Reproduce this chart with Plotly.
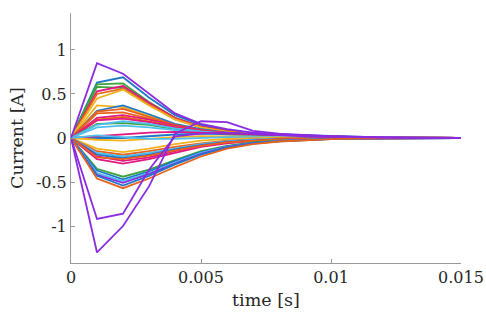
import plotly.graph_objects as go

time_s = [0, 0.001, 0.002, 0.003, 0.004, 0.005, 0.006, 0.007, 0.008,
          0.009, 0.010, 0.011, 0.012, 0.013, 0.014, 0.015]

x_tick_vals = [0, 0.005, 0.01, 0.015]
x_tick_text = ["0", "0.005", "0.01", "0.015"]
y_tick_vals = [-1, -0.5, 0, 0.5, 1]
y_tick_text = ["-1", "-0.5", "0", "0.5", "1"]

BLUE = "#1f77c8"
ORANGE = "#e8621c"
YELLOW = "#f0b21e"
PURPLE = "#8a2be2"
GREEN = "#3ca43a"
CYAN = "#4dbeee"
MAGENTA = "#e0187f"

# positive branch currents [A]
p01 = [0, .63, .69, .46, .26, .15, .09, .055, .04, .03, .02, .012, .006, .004, .002, .001]
p02 = [0, .61, .62, .41, .23, .13, .08, .05, .035, .025, .017, .01, .005, .003, .002, .001]
p03 = [0, .58, .57, .38, .21, .12, .07, .045, .03, .022, .015, .009, .005, .003, .002, .001]
p04 = [0, .53, .59, .40, .23, .13, .08, .05, .035, .025, .016, .01, .005, .003, .002, .001]
p05 = [0, .50, .56, .38, .22, .12, .075, .05, .035, .025, .016, .01, .005, .003, .002, .001]
p06 = [0, .45, .55, .37, .21, .12, .07, .045, .03, .02, .014, .008, .004, .003, .002, .001]
p07 = [0, .37, .35, .25, .15, .09, .055, .035, .025, .018, .012, .007, .004, .002, .001, .001]
p08 = [0, .31, .37, .27, .16, .10, .06, .04, .03, .02, .013, .008, .004, .002, .001, .001]
p09 = [0, .30, .33, .24, .15, .09, .055, .035, .025, .018, .012, .007, .004, .002, .001, 0]
p10 = [0, .28, .29, .22, .14, .085, .05, .035, .025, .017, .011, .007, .004, .002, .001, 0]
p11 = [0, .23, .26, .21, .14, .09, .055, .035, .025, .017, .011, .007, .004, .002, .001, 0]
p12 = [0, .21, .24, .19, .13, .08, .05, .035, .025, .017, .011, .007, .004, .002, .001, 0]
p13 = [0, .20, .22, .18, .12, .08, .05, .035, .025, .017, .011, .007, .004, .002, .001, 0]
p14 = [0, .16, .17, .15, .10, .07, .045, .03, .022, .015, .01, .006, .003, .002, .001, 0]
p15 = [0, .15, .19, .16, .11, .075, .05, .035, .025, .017, .011, .007, .004, .002, .001, 0]
p16 = [0, .12, .14, .12, .09, .06, .04, .03, .02, .014, .01, .006, .003, .002, .001, 0]
p17 = [0, 0, 0, .02, .04, .05, .045, .035, .025, .018, .012, .007, .004, .002, .001, 0]
p18 = [0, .02, .04, .06, .07, .06, .05, .035, .025, .018, .012, .007, .004, .002, .001, 0]
p19 = [0, -.02, -.03, -.01, .01, .02, .02, .015, .01, .008, .005, .003, .002, .001, 0, 0]
p20 = [0, .03, .01, -.01, -.01, 0, .01, .01, .008, .006, .004, .002, .001, 0, 0, 0]
p21 = [0, .85, .73, .50, .28, .16, .10, .06, .04, .03, .02, .012, .007, .004, .002, .001]

# negative branch currents [A]
n01 = [0, -.12, -.16, -.12, -.07, -.03, -.01, 0, .005, .005, .004, .003, .002, .001, 0, 0]
n02 = [0, -.15, -.19, -.15, -.10, -.06, -.03, -.015, -.005, 0, .002, .002, .001, 0, 0, 0]
n03 = [0, -.17, -.21, -.17, -.12, -.07, -.04, -.02, -.01, -.004, 0, .001, 0, 0, 0, 0]
n04 = [0, -.19, -.23, -.19, -.13, -.08, -.045, -.025, -.012, -.006, -.002, 0, 0, 0, 0, 0]
n05 = [0, -.21, -.26, -.22, -.15, -.09, -.05, -.03, -.015, -.008, -.004, -.002, -.001, 0, 0, 0]
n06 = [0, -.24, -.29, -.24, -.17, -.10, -.06, -.035, -.02, -.01, -.005, -.003, -.001, 0, 0, 0]
n07 = [0, -.22, -.24, -.20, -.14, -.09, -.05, -.03, -.017, -.009, -.004, -.002, -.001, 0, 0, 0]
n08 = [0, -.35, -.44, -.36, -.25, -.15, -.09, -.05, -.03, -.017, -.009, -.005, -.002, -.001, 0, 0]
n09 = [0, -.37, -.47, -.38, -.26, -.16, -.095, -.055, -.032, -.018, -.01, -.005, -.002, -.001, 0, 0]
n10 = [0, -.40, -.49, -.40, -.28, -.17, -.10, -.06, -.034, -.019, -.01, -.005, -.002, -.001, 0, 0]
n11 = [0, -.42, -.51, -.41, -.29, -.18, -.105, -.06, -.035, -.02, -.011, -.006, -.003, -.001, 0, 0]
n12 = [0, -.43, -.54, -.43, -.30, -.19, -.11, -.065, -.037, -.021, -.012, -.006, -.003, -.001, 0, 0]
n13 = [0, -.46, -.57, -.46, -.33, -.21, -.12, -.07, -.04, -.023, -.013, -.007, -.003, -.001, 0, 0]
n14 = [0, -.92, -.86, -.36, .02, .05, .06, .045, .03, .02, .012, .007, .004, .002, .001, 0]
n15 = [0, -1.30, -1.00, -.55, .05, .19, .18, .08, .05, .03, .018, .01, .006, .003, .002, .001]

series = [
    (p01, BLUE), (p02, GREEN), (p03, GREEN), (p04, MAGENTA), (p05, ORANGE),
    (p06, YELLOW), (p07, YELLOW), (p08, BLUE), (p09, ORANGE), (p10, ORANGE),
    (p11, MAGENTA), (p12, ORANGE), (p13, MAGENTA), (p14, GREEN), (p15, CYAN),
    (p16, CYAN), (p17, BLUE), (p18, MAGENTA), (p19, YELLOW), (p20, CYAN),
    (n01, YELLOW), (n02, ORANGE), (n03, CYAN), (n04, BLUE), (n05, MAGENTA),
    (n06, MAGENTA), (n07, ORANGE), (n08, GREEN), (n09, BLUE), (n10, CYAN),
    (n11, PURPLE), (n12, BLUE), (n13, ORANGE),
    (p21, PURPLE), (n14, PURPLE), (n15, PURPLE),
]

fig = go.Figure()
for ys, col in series:
    fig.add_trace(go.Scatter(x=time_s, y=ys, mode="lines",
                             line=dict(color=col, width=1.8),
                             showlegend=False, hoverinfo="skip"))

FONT = "DejaVu Serif"
TXT = "#262626"
axis_common = dict(showgrid=False, zeroline=False, showline=True,
                   linecolor="#9a9a9a", linewidth=1, ticks="inside",
                   tickcolor="#9a9a9a", ticklen=4, automargin=False,
                   tickfont=dict(family=FONT, size=16, color=TXT))

fig.update_layout(
    width=486, height=319,
    margin=dict(l=71, r=25, t=13, b=56),
    paper_bgcolor="white", plot_bgcolor="white",
    xaxis=dict(range=[0, 0.015], tickvals=x_tick_vals, ticktext=x_tick_text,
               **axis_common),
    yaxis=dict(range=[-1.42, 1.42], tickvals=y_tick_vals, ticktext=y_tick_text,
               **axis_common),
    annotations=[
        dict(text="time [s]", xref="paper", yref="paper", x=0.5, y=-0.148,
             xanchor="center", yanchor="middle", showarrow=False,
             font=dict(family=FONT, size=17.5, color=TXT)),
        dict(text="Current [A]", xref="paper", yref="paper", x=-0.1385, y=0.5,
             xanchor="center", yanchor="middle", showarrow=False, textangle=-90,
             font=dict(family=FONT, size=17.5, color=TXT)),
    ],
)

fig.write_html("out.html",
               config={"displayModeBar": False, "staticPlot": True},
               post_script="document.body.style.margin='0';document.body.style.overflow='hidden';")
